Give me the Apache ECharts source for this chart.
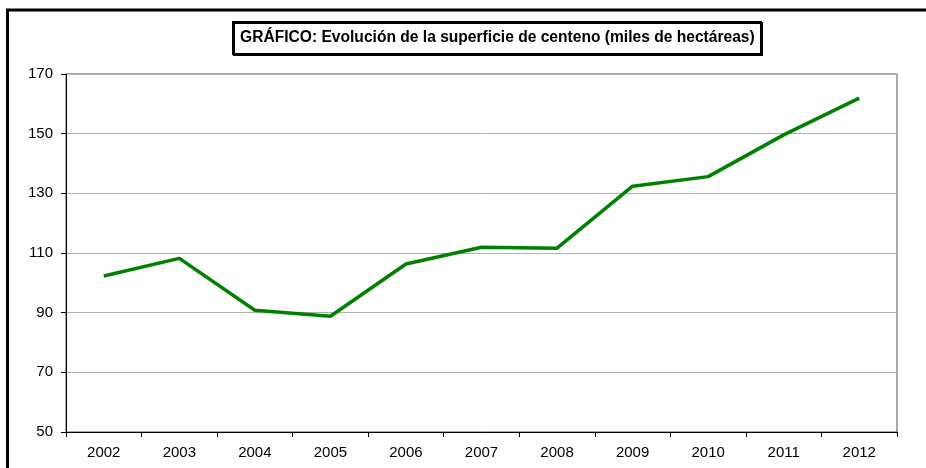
<!DOCTYPE html>
<html>
<head>
<meta charset="utf-8">
<style>
  html, body { margin: 0; padding: 0; background: #fff; }
  #chart { width: 926px; height: 468px; }
</style>
<script src="https://cdn.jsdelivr.net/npm/echarts@6/dist/echarts.min.js"></script>
</head>
<body>
<div id="chart"></div>
<script>
// años y superficie (miles de hectáreas)
var years = ['2002', '2003', '2004', '2005', '2006', '2007', '2008', '2009', '2010', '2011', '2012'];
var superficie = [102.3, 108.2, 90.8, 88.8, 106.3, 111.9, 111.6, 132.4, 135.6, 149.6, 161.9];
var yTicks = { min: 50, max: 170, step: 20 };

var font = '"Liberation Sans", Arial, sans-serif';
var myChart = echarts.init(document.getElementById('chart'));

var option = {
    animation: false,
    backgroundColor: '#fff',
    textStyle: { fontFamily: font },
    title: {
        text: 'GRÁFICO: Evolución de la superficie de centeno (miles de hectáreas)',
        left: 233,
        top: 22,
        padding: [8, 7, 8, 7],
        borderColor: '#000',
        borderWidth: 2,
        shadowColor: '#000',
        shadowOffsetX: 1,
        shadowOffsetY: 1,
        textStyle: {
            fontFamily: font,
            fontSize: 15.6,
            fontWeight: 'bold',
            color: '#000'
        }
    },
    graphic: [{
        // marco exterior del gráfico
        type: 'rect',
        shape: { x: 7.5, y: 10, width: 1000, height: 1000 },
        style: { fill: 'none', stroke: '#000', lineWidth: 3 },
        silent: true
    }],
    grid: {
        left: 66,
        top: 74,
        right: 29,
        bottom: 36,
        show: true,
        borderColor: '#555',
        borderWidth: 1
    },
    xAxis: {
        type: 'category',
        data: years,
        boundaryGap: true,
        axisLine: { lineStyle: { color: '#000', width: 1 } },
        axisTick: { show: true, length: 5, lineStyle: { color: '#000' } },
        axisLabel: { color: '#000', fontSize: 15, margin: 13, fontFamily: font },
        splitLine: { show: false }
    },
    yAxis: {
        type: 'value',
        min: yTicks.min,
        max: yTicks.max,
        interval: yTicks.step,
        axisLine: { show: true, lineStyle: { color: '#000', width: 1 } },
        axisTick: { show: true, length: 5, lineStyle: { color: '#000' } },
        axisLabel: { color: '#000', fontSize: 15, margin: 13, fontFamily: font },
        splitLine: { show: true, lineStyle: { color: '#b0b0b0', width: 1 } }
    },
    series: [{
        type: 'line',
        data: superficie,
        symbol: 'none',
        lineStyle: { color: '#008000', width: 3.5 }
    }]
};

myChart.setOption(option);
</script>
</body>
</html>
